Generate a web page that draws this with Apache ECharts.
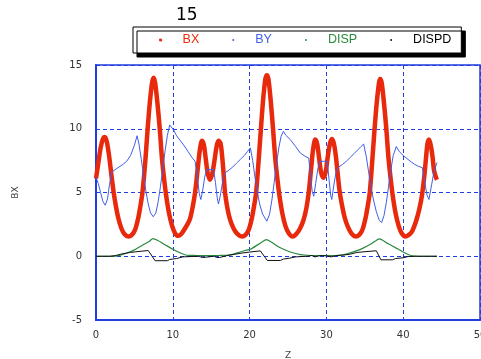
<!DOCTYPE html>
<html><head><meta charset="utf-8">
<script src="https://cdn.jsdelivr.net/npm/echarts@6/dist/echarts.min.js"></script>
<style>html,body{margin:0;padding:0;background:#fff}#c{width:481px;height:359px}</style>
</head><body><div id="c"></div>
<script>
const titleText = '15';
const seriesNames = ['BX', 'BY', 'DISP', 'DISPD'];
const xTicks = [0, 10, 20, 30, 40, 50];
const yTicks = [-5, 0, 5, 10, 15];

const bx = [[0,6.1],[0.3,7.3],[0.6,8.5],[0.9,9.2],[1.15,9.35],[1.4,9.0],[1.7,7.9],[2.0,6.4],[2.3,5.0],[2.6,3.9],[2.9,3.0],[3.3,2.2],[3.7,1.75],[4.2,1.55],[4.7,1.7],[5.1,2.1],[5.5,3.0],[5.8,4.0],[6.05,5.0],[6.4,7.3],[6.7,9.8],[7.0,12.0],[7.3,13.6],[7.5,14.0],[7.7,13.6],[8.0,12.0],[8.3,10.0],[8.6,7.6],[8.9,5.9],[9.15,4.7],[9.5,3.4],[9.9,2.4],[10.3,1.8],[10.7,1.6],[11.1,1.75],[11.5,2.1],[11.9,2.5],[12.25,2.95],[12.6,3.9],[12.9,5.0],[13.2,6.6],[13.45,8.0],[13.65,8.8],[13.8,9.05],[14.05,8.7],[14.3,7.6],[14.55,6.5],[14.85,6.0],[15.15,6.5],[15.45,7.6],[15.7,8.6],[15.95,9.05],[16.2,8.9],[16.4,8.0],[16.6,6.6],[16.8,5.0],[17.1,3.8],[17.45,2.9],[17.9,2.2],[18.4,1.75],[19.0,1.55],[19.5,1.7],[19.9,2.1],[20.3,3.0],[20.6,4.0],[20.85,5.0],[21.15,7.3],[21.45,9.8],[21.75,12.2],[22.05,13.9],[22.25,14.2],[22.45,13.9],[22.75,12.2],[23.05,10.0],[23.35,7.6],[23.65,5.9],[23.9,4.7],[24.25,3.4],[24.65,2.4],[25.1,1.8],[25.6,1.55],[26.0,1.7],[26.5,2.1],[27.0,2.8],[27.4,3.8],[27.7,5.0],[28.0,6.8],[28.25,8.3],[28.55,9.15],[28.8,8.8],[29.05,7.7],[29.3,6.6],[29.6,6.15],[29.9,6.6],[30.15,7.7],[30.45,8.8],[30.7,9.2],[30.95,8.9],[31.2,8.0],[31.45,6.6],[31.7,5.2],[32.0,4.1],[32.4,3.0],[32.8,2.3],[33.3,1.75],[33.8,1.55],[34.3,1.7],[34.7,2.1],[35.1,3.0],[35.4,4.0],[35.65,5.0],[35.95,7.3],[36.25,9.8],[36.55,12.0],[36.85,13.6],[37.0,13.9],[37.2,13.6],[37.5,12.0],[37.8,10.0],[38.1,7.6],[38.4,5.9],[38.65,4.7],[39.0,3.4],[39.4,2.4],[39.8,1.8],[40.3,1.55],[40.8,1.7],[41.2,2.0],[41.7,2.8],[42.1,3.7],[42.45,4.8],[42.75,6.3],[43.0,7.9],[43.15,8.8],[43.35,9.15],[43.55,8.8],[43.8,7.9],[44.0,6.8],[44.2,6.3],[44.4,6.0]];

const by = [[0,6.2],[0.3,5.7],[0.6,5.0],[0.9,4.3],[1.2,4.0],[1.5,4.5],[1.75,5.6],[2.05,6.6],[2.5,6.8],[3.0,7.0],[3.5,7.2],[4.0,7.45],[4.5,7.9],[5.0,8.7],[5.35,9.45],[5.6,8.8],[5.9,7.6],[6.2,6.3],[6.5,5.1],[6.8,4.1],[7.1,3.4],[7.45,3.1],[7.8,3.4],[8.1,4.3],[8.4,5.5],[8.7,6.9],[9.0,8.3],[9.3,9.5],[9.6,10.3],[9.75,10.3],[10.1,9.9],[10.5,9.45],[11.0,9.05],[11.5,8.65],[12.0,8.2],[12.5,7.75],[12.9,7.45],[13.2,6.2],[13.45,4.9],[13.65,4.45],[13.9,5.2],[14.15,6.2],[14.4,6.8],[14.9,6.8],[15.3,6.8],[15.55,5.8],[15.8,4.5],[15.95,4.1],[16.2,4.8],[16.5,5.9],[16.8,6.55],[17.3,6.75],[17.8,7.0],[18.3,7.3],[18.8,7.6],[19.3,7.9],[19.7,8.2],[20.1,8.5],[20.4,7.5],[20.7,6.2],[21.0,5.1],[21.3,4.1],[21.7,3.3],[22.25,2.75],[22.6,3.3],[22.9,4.4],[23.2,5.8],[23.5,7.2],[23.8,8.5],[24.1,9.4],[24.4,9.8],[24.7,9.5],[25.3,9.15],[26.0,8.6],[26.6,8.1],[27.2,7.85],[27.7,7.7],[27.95,6.2],[28.15,5.1],[28.35,4.7],[28.6,5.7],[28.9,6.9],[29.2,7.45],[29.65,7.45],[30.1,7.45],[30.35,6.0],[30.55,4.8],[30.7,4.45],[30.95,5.5],[31.25,6.6],[31.6,7.0],[32.1,7.2],[32.6,7.45],[33.1,7.75],[33.6,8.05],[34.1,8.35],[34.5,8.6],[34.85,8.8],[35.2,7.8],[35.5,6.6],[35.8,5.5],[36.1,4.5],[36.5,3.5],[36.9,2.8],[37.2,2.65],[37.5,3.2],[37.8,4.2],[38.1,5.5],[38.4,6.8],[38.7,7.9],[39.1,8.6],[39.5,8.2],[40.1,7.85],[40.9,7.46],[41.5,7.2],[42.0,7.05],[42.5,6.95],[42.8,5.8],[43.1,4.8],[43.35,4.45],[43.7,5.6],[44.0,6.6],[44.4,7.35]];

const disp = [[0,0],[1,0],[2,0],[3,0.05],[4,0.25],[5,0.5],[6,0.85],[7,1.2],[7.4,1.39],[8,1.25],[9,0.9],[10,0.55],[11,0.25],[11.8,0.08],[13,0.06],[14,0.05],[15,0.05],[16,0.06],[17,0.08],[17.8,0.15],[18.6,0.3],[19.4,0.45],[20.1,0.55],[21.2,0.95],[22.2,1.3],[23.1,1.0],[24.0,0.66],[25.2,0.35],[26.6,0.13],[27.5,0.08],[28.5,0.06],[29.6,0.06],[30.7,0.06],[31.8,0.1],[32.7,0.19],[33.8,0.4],[34.85,0.66],[35.9,1.0],[36.9,1.37],[38.0,1.0],[39.2,0.6],[40.1,0.3],[40.9,0.08],[41.5,0.02],[42.5,0],[44.4,0]];

const dispd = [[0,0],[1.8,0],[2.5,0.05],[3.5,0.2],[4.5,0.3],[5.2,0.35],[5.4,0.45],[6.8,0.45],[7.7,-0.35],[9.3,-0.35],[9.6,-0.25],[10.5,-0.18],[11.3,-0.05],[12.5,-0.02],[13.3,0.0],[13.5,-0.1],[13.9,-0.1],[14.1,0.0],[15.4,0.0],[15.7,-0.1],[16.1,-0.1],[16.3,0.0],[17.0,0.05],[18.0,0.15],[19.0,0.25],[20.0,0.33],[20.2,0.42],[21.4,0.42],[22.3,-0.33],[24.0,-0.33],[24.4,-0.22],[25.2,-0.15],[26.0,-0.05],[27.5,0.0],[28.1,0.06],[28.5,-0.05],[29.2,0.05],[30.0,0.03],[30.6,-0.05],[31.2,0.04],[32.0,0.08],[33.0,0.15],[34.0,0.3],[34.9,0.35],[35.1,0.43],[36.5,0.43],[37.1,-0.28],[38.6,-0.28],[39.0,-0.18],[40.0,-0.12],[40.6,-0.03],[41.5,0],[44.4,0]];

const colors = ['#e8290b', '#3f5fe8', '#2a8a3c', '#111111'];
const gridBlue = '#1f3de0';
const font = 'DejaVu Sans';

const chart = echarts.init(document.getElementById('c'), null, {renderer: 'canvas'});
chart.setOption({
  animation: false,
  backgroundColor: '#fff',
  title: {
    text: titleText, left: 176, top: 7, padding: 0,
    textStyle: {fontFamily: font, fontSize: 17, fontWeight: 'normal', color: '#000'}
  },
  legend: {
    left: 133, top: 27,
    padding: [6, 10, 6, 26],
    itemWidth: 34, itemHeight: 2, itemGap: 33,
    icon: 'circle',
    backgroundColor: '#fff',
    borderColor: '#000', borderWidth: 1,
    shadowColor: '#000', shadowBlur: 0, shadowOffsetX: 4, shadowOffsetY: 4,
    itemStyle: {borderWidth: 0},
    textStyle: {fontFamily: 'Liberation Sans', fontSize: 12.5, lineHeight: 14},
    data: seriesNames.map((n, i) => ({
      name: n, icon: 'circle',
      itemStyle: i === 0 ? {borderWidth: 1.2, borderColor: colors[0]} : {borderWidth: 0},
      textStyle: {color: i === 3 ? '#000' : colors[i]}
    }))
  },
  grid: {
    left: 96, right: 1, top: 65, bottom: 39,
    outerBoundsMode: 'none', containLabel: false,
    show: true, borderColor: gridBlue, borderWidth: 1.5, backgroundColor: 'transparent'
  },
  xAxis: {
    type: 'value', min: xTicks[0], max: xTicks[xTicks.length - 1], interval: 10,
    name: 'Z', nameLocation: 'middle', nameGap: 31,
    nameTextStyle: {fontFamily: font, fontSize: 9, color: '#444'},
    axisLine: {show: true, onZero: false, lineStyle: {color: gridBlue, width: 2}},
    axisTick: {show: false},
    axisLabel: {margin: 10, fontFamily: font, fontSize: 10, color: '#333'},
    splitLine: {show: true, lineStyle: {color: gridBlue, type: [4, 3], width: 1}}
  },
  yAxis: {
    type: 'value', min: yTicks[0], max: yTicks[yTicks.length - 1], interval: 5,
    name: 'BX', nameLocation: 'middle', nameGap: 76, nameRotate: 90,
    nameTextStyle: {fontFamily: font, fontSize: 9, color: '#444'},
    axisLine: {show: true, onZero: false, lineStyle: {color: gridBlue, width: 2}},
    axisTick: {show: false},
    axisLabel: {margin: 14, fontFamily: font, fontSize: 10, color: '#333'},
    splitLine: {show: true, lineStyle: {color: gridBlue, type: [4, 3], width: 1}}
  },
  series: [
    {name: 'BX', type: 'line', data: bx, showSymbol: false, symbol: 'none', smooth: 0.3,
     color: colors[0], lineStyle: {width: 4.5, color: colors[0]}},
    {name: 'BY', type: 'line', data: by, showSymbol: false, symbol: 'none',
     color: colors[1], lineStyle: {width: 1, color: colors[1]}},
    {name: 'DISP', type: 'line', data: disp, showSymbol: false, symbol: 'none', smooth: 0.2,
     color: colors[2], lineStyle: {width: 1.2, color: colors[2]}},
    {name: 'DISPD', type: 'line', data: dispd, showSymbol: false, symbol: 'none',
     color: colors[3], lineStyle: {width: 1, color: colors[3]}}
  ]
});
</script></body></html>
